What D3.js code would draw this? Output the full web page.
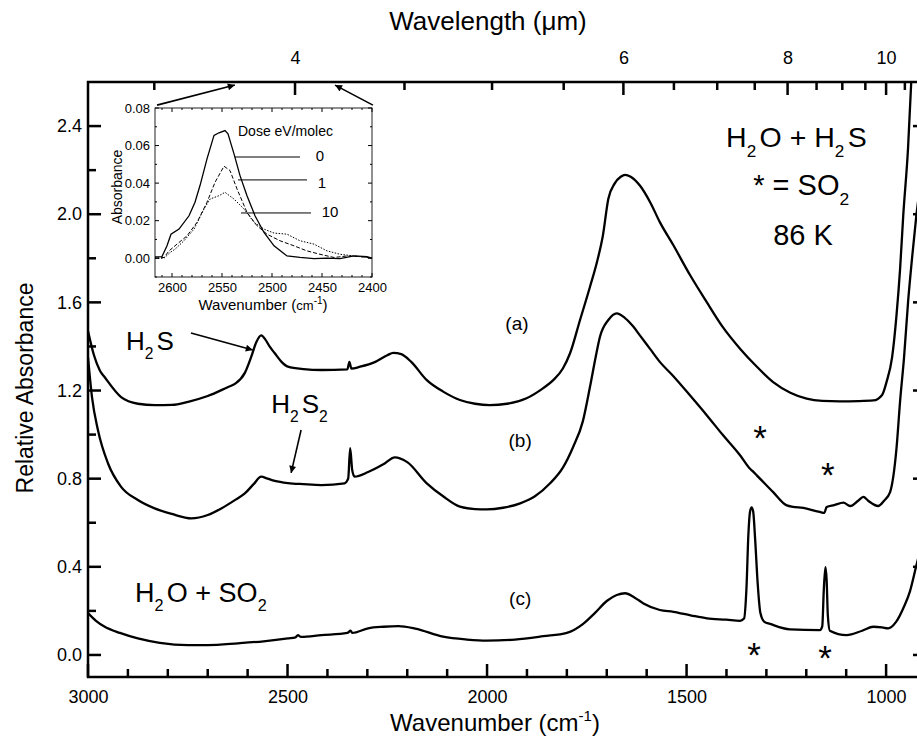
<!DOCTYPE html>
<html>
<head>
<meta charset="utf-8">
<script src="https://cdn.jsdelivr.net/npm/d3@7"></script>
<style>
body { margin: 0; background: #fff; }
text { font-family: "Liberation Sans", Arial, sans-serif; fill: #000; }
</style>
</head>
<body>
<div id="chart-area"></div>
<script>
// spectra: [wavenumber (cm-1), relative absorbance]
var curveA = [[3000,1.47],[2985,1.36],[2970,1.29],[2958,1.26],[2917,1.17],[2875,1.14],[2833,1.134],
	[2790,1.135],[2749,1.149],[2700,1.175],[2650,1.215],[2632,1.23],[2607,1.28],[2591,1.353],[2578,1.42],
	[2566,1.45],[2555,1.43],[2545,1.40],[2532,1.369],[2515,1.33],[2499,1.308],[2460,1.297],[2415,1.293],
	[2350,1.296],[2345,1.33],[2340,1.30],[2318,1.308],[2280,1.33],[2250,1.36],[2235,1.371],[2215,1.365],
	[2190,1.33],[2151,1.247],[2110,1.195],[2068,1.157],[2030,1.14],[1993,1.134],[1950,1.14],[1901,1.165],
	[1860,1.21],[1834,1.247],[1810,1.30],[1792,1.369],[1767,1.52],[1742,1.671],[1725,1.78],[1710,1.90],
	[1696,2.07],[1680,2.14],[1665,2.17],[1654,2.179],[1640,2.17],[1617,2.13],[1590,2.05],[1567,1.964],
	[1533,1.859],[1491,1.723],[1449,1.60],[1410,1.49],[1366,1.39],[1325,1.31],[1283,1.238],[1240,1.19],
	[1199,1.163],[1160,1.153],[1116,1.151],[1070,1.152],[1032,1.155],[1010,1.18],[999,1.238],[985,1.35],
	[974,1.54],[965,1.75],[957,1.995],[945,2.3],[937,2.6],[930,2.9]];

var curveB = [[3000,1.35],[2990,1.17],[2975,1.02],[2950,0.87],[2917,0.763],[2875,0.703],[2833,0.665],
	[2790,0.64],[2741,0.62],[2700,0.635],[2666,0.665],[2630,0.705],[2607,0.733],[2585,0.775],[2566,0.809],
	[2550,0.80],[2532,0.79],[2499,0.78],[2460,0.775],[2415,0.771],[2357,0.779],[2348,0.80],[2343,0.938],
	[2338,0.84],[2332,0.809],[2298,0.83],[2260,0.865],[2231,0.897],[2200,0.875],[2151,0.779],[2110,0.72],
	[2068,0.673],[2030,0.662],[2001,0.661],[1960,0.668],[1917,0.688],[1880,0.72],[1842,0.779],[1810,0.85],
	[1784,0.945],[1760,1.06],[1742,1.217],[1728,1.35],[1717,1.444],[1696,1.52],[1675,1.55],[1655,1.53],
	[1633,1.489],[1617,1.45],[1592,1.39],[1567,1.33],[1533,1.265],[1490,1.175],[1449,1.087],[1410,1.0],
	[1366,0.906],[1341,0.845],[1335,0.835],[1324,0.815],[1283,0.739],[1249,0.679],[1199,0.664],[1166,0.649],
	[1155,0.645],[1149,0.671],[1130,0.68],[1107,0.691],[1090,0.676],[1070,0.70],[1057,0.717],[1045,0.70],
	[1020,0.676],[1005,0.70],[990,0.739],[974,0.936],[965,1.15],[955,1.35],[945,1.60],[935,1.80],
	[925,1.98],[900,2.3]];

var curveC = [[3000,0.19],[2980,0.155],[2958,0.128],[2920,0.10],[2875,0.075],[2820,0.055],[2749,0.045],
	[2700,0.045],[2624,0.053],[2560,0.062],[2499,0.075],[2480,0.08],[2474,0.09],[2466,0.082],[2415,0.09],
	[2350,0.10],[2342,0.11],[2338,0.10],[2298,0.121],[2260,0.128],[2222,0.131],[2180,0.12],[2110,0.083],
	[2050,0.07],[2001,0.065],[1930,0.07],[1859,0.085],[1800,0.10],[1760,0.14],[1730,0.19],[1700,0.245],
	[1675,0.272],[1654,0.28],[1630,0.26],[1608,0.234],[1567,0.204],[1533,0.196],[1490,0.18],[1449,0.166],
	[1400,0.16],[1366,0.155],[1356,0.165],[1350,0.30],[1345,0.55],[1341,0.65],[1337,0.67],[1333,0.65],
	[1328,0.52],[1322,0.33],[1315,0.19],[1305,0.15],[1291,0.141],[1241,0.116],[1166,0.113],[1160,0.13],
	[1156,0.30],[1152,0.398],[1149,0.34],[1146,0.18],[1141,0.11],[1099,0.09],[1060,0.11],[1032,0.128],
	[1010,0.125],[995,0.121],[975,0.15],[955,0.22],[940,0.29],[925,0.40],[900,0.58]];

// inset: S-H stretch region, [wavenumber, absorbance]
var dose0 = [[2617,0.0007],[2610,0.0009],[2605,0.0066],[2601,0.0128],[2593,0.0155],[2583,0.0226],
	[2577,0.0298],[2572,0.0387],[2565,0.0529],[2558,0.0654],[2553,0.0668],[2547,0.068],[2544,0.0663],
	[2538,0.0556],[2532,0.044],[2525,0.0333],[2517,0.0226],[2508,0.0137],[2498,0.0066],[2485,0.0012],
	[2472,0.0004],[2458,-0.0002],[2445,0],[2432,-0.0002],[2418,0.0012],[2405,0.0009],[2400,0]];
var dose1 = [[2617,0],[2608,0.0004],[2603,0.0039],[2595,0.0075],[2585,0.0119],[2575,0.0191],
	[2565,0.0298],[2557,0.0404],[2548,0.049],[2542,0.0467],[2535,0.0369],[2525,0.0244],[2515,0.0173],
	[2505,0.0128],[2492,0.0093],[2478,0.0066],[2465,0.0039],[2452,0.0021],[2438,0.0004],[2425,0.0012],
	[2412,0.0009],[2400,0]];
var dose10 = [[2617,0],[2608,0],[2602,0.003],[2597,0.0048],[2588,0.0093],[2578,0.0155],[2568,0.0262],
	[2562,0.0315],[2553,0.0333],[2547,0.0351],[2538,0.0315],[2528,0.0262],[2518,0.0191],[2508,0.0155],
	[2498,0.0134],[2485,0.0128],[2472,0.0093],[2458,0.0075],[2445,0.0039],[2432,0.0021],[2418,0.0012],
	[2405,0.0004],[2400,0]];

// ticks
var wnMajor = [3000, 2500, 2000, 1500, 1000];
var wnMinor = [2900,2800,2700,2600,2400,2300,2200,2100,1900,1800,1700,1600,1400,1300,1200,1100,900];
var umMajor = [4, 6, 8, 10];
var umMinor = [3.5, 4.5, 5, 5.5, 6.5, 7, 7.5, 8.5, 9, 9.5, 10.5, 11];
var absMajor = [0, 0.4, 0.8, 1.2, 1.6, 2.0, 2.4];
var absMinor = [0.2, 0.6, 1.0, 1.4, 1.8, 2.2];
var insetXTicks = [2600, 2550, 2500, 2450, 2400];
var insetXMinor = [2610,2590,2580,2570,2560,2540,2530,2520,2510,2490,2480,2470,2460,2440,2430,2420,2410];
var insetYTicks = [0, 0.02, 0.04, 0.06, 0.08];
var insetYMinor = [-0.01, 0.01, 0.03, 0.05, 0.07];
var doseLabels = ["0", "1", "10"];

var margin = {left:88, right:0, top:82, bottom:69};
var width = 926 - margin.left,
	height = 677 - margin.top;

var svg = d3.select("#chart-area")
	.append("svg")
		.attr("width", 917)
		.attr("height", 746);

var defs = svg.append("defs");
defs.append("clipPath").attr("id", "plot-clip")
	.append("rect").attr("width", width).attr("height", height);

defs.append("marker")
	.attr("id", "arrow")
	.attr("viewBox", "0 0 10 10")
	.attr("refX", 10).attr("refY", 5)
	.attr("markerWidth", 10).attr("markerHeight", 7)
	.attr("markerUnits", "userSpaceOnUse")
	.attr("orient", "auto")
	.append("path").attr("d", "M0,0 L10,5 L0,10 z").attr("fill", "#000");

var canvas = svg.append("g")
	.attr("transform", "translate(" + margin.left + ", " + margin.top + ")");

//scales
var x = d3.scaleLinear().domain([3000, 900]).range([0, width]);
var y = d3.scaleLinear().domain([-0.1, 2.6]).range([height, 0]);
// the wavelength axis of the original sits a few pixels off the wavenumber one
var xTop = d3.scaleLinear().domain([3000, 900]).range([10, width - 0.5]);

function labelAxis(g, size) {
	g.select(".domain").remove();
	g.selectAll(".tick line").remove();
	g.selectAll(".tick text").attr("font-size", size + "px").attr("font-family", null).attr("fill", "#000");
}

// inward tick marks drawn as thin filled bars
function tickMarks(parent, values, pos, side, len, extent, sw) {
	parent.append("g").selectAll("rect")
		.data(values)
		.enter().append("rect")
			.attr("x", function(v){ return side == "h" ? pos(v) - sw / 2 : Math.min(extent, extent + len); })
			.attr("y", function(v){ return side == "h" ? Math.min(extent, extent + len) : pos(v) - sw / 2; })
			.attr("width", side == "h" ? sw : Math.abs(len))
			.attr("height", side == "h" ? Math.abs(len) : sw)
			.attr("fill", "#000");
}

var topPos = function(l){ return xTop(10000 / l); };

//frame
canvas.append("rect")
	.attr("width", width).attr("height", height)
	.attr("fill", "none").attr("stroke", "#000").attr("stroke-width", 2.5);

tickMarks(canvas, wnMajor, x, "h", -13, height, 2.5);
tickMarks(canvas, wnMinor, x, "h", -8, height, 2.5);
tickMarks(canvas, umMajor, topPos, "h", 13, 0, 2.5);
tickMarks(canvas, umMinor, topPos, "h", 8, 0, 2.5);
tickMarks(canvas, absMajor, y, "v", 13, 0, 2.5);
tickMarks(canvas, absMinor, y, "v", 8, 0, 2.5);
tickMarks(canvas, absMajor, y, "v", -13, width, 2.5);
tickMarks(canvas, absMinor, y, "v", -8, width, 2.5);

//tick labels
canvas.append("g").attr("transform", "translate(0," + height + ")")
	.call(d3.axisBottom(x).tickValues(wnMajor).tickSize(0).tickPadding(13).tickFormat(d3.format("d")))
	.call(labelAxis, 18);
canvas.append("g")
	.call(d3.axisTop(xTop).tickValues(umMajor.map(function(l){ return 10000 / l; }))
		.tickSize(0).tickPadding(18)
		.tickFormat(function(d){ return Math.round(10000 / d); }))
	.call(labelAxis, 18);
canvas.append("g")
	.call(d3.axisLeft(y).tickValues(absMajor).tickSize(0).tickPadding(6).tickFormat(d3.format(".1f")))
	.call(labelAxis, 18);

//axis titles
var xLabel = svg.append("text")
	.attr("x", 495).attr("y", 731)
	.attr("font-size", "24px")
	.attr("text-anchor", "middle");
xLabel.append("tspan").text("Wavenumber (cm");
xLabel.append("tspan").text("-1").attr("font-size", "15px").attr("dy", -10);
xLabel.append("tspan").text(")").attr("dy", 10);

svg.append("text")
	.attr("x", 488).attr("y", 30)
	.attr("font-size", "26px")
	.attr("text-anchor", "middle")
	.text("Wavelength (\u03bcm)");

svg.append("text")
	.attr("transform", "translate(33, 388) rotate(-90)")
	.attr("font-size", "23px")
	.attr("text-anchor", "middle")
	.text("Relative Absorbance");

//spectra
var line = d3.line()
	.x(function(d){ return x(d[0]); })
	.y(function(d){ return y(d[1]); })
	.curve(d3.curveMonotoneX);

var plot = canvas.append("g").attr("clip-path", "url(#plot-clip)");
[curveA, curveB, curveC].forEach(function(c){
	plot.append("path")
		.datum(c)
		.attr("d", line)
		.attr("fill", "none")
		.attr("stroke", "#000")
		.attr("stroke-width", 2.3)
		.attr("stroke-linejoin", "round");
});

//chemical formula text with subscripts
function chem(sel, parts, size) {
	var sub = size * 0.34;
	parts.forEach(function(p, i){
		var t = sel.append("tspan").text(p);
		if (i % 2 == 1) {
			t.attr("font-size", (size * 0.6) + "px").attr("dy", sub);
		} else if (i > 0) {
			t.attr("dy", -sub).attr("dx", size * 0.12);
		}
	});
}

function label(wn, v, parts, size) {
	var t = canvas.append("text")
		.attr("x", x(wn)).attr("y", y(v))
		.attr("font-size", size + "px");
	chem(t, parts, size);
	return t;
}

label(2905, 1.384, ["H", "2", "S"], 26);
label(2541, 1.098, ["H", "2", "S", "2", ""], 26);
label(2882, 0.240, ["H", "2", "O + SO", "2", ""], 27);
label(1401, 2.305, ["H", "2", "O + H", "2", "S"], 28.5);
label(1333, 2.087, ["* = SO", "2", ""], 29);
label(1283, 1.86, ["86 K"], 29);

[["(a)", 1925, 1.506], ["(b)", 1917, 0.975], ["(c)", 1917, 0.258]].forEach(function(d){
	canvas.append("text")
		.attr("x", x(d[1])).attr("y", y(d[2]))
		.attr("dy", "0.35em")
		.attr("font-size", "19px")
		.attr("text-anchor", "middle")
		.text(d[0]);
});

//SO2 asterisks
[[1316, 1.02], [1146, 0.853], [1331, 0.036], [1153, 0.0225]].forEach(function(d){
	canvas.append("text")
		.attr("x", x(d[0])).attr("y", y(d[1]) + 20)
		.attr("font-size", "35px")
		.attr("text-anchor", "middle")
		.text("*");
});

//arrows
var arrows = [[2742, 1.461, 2587, 1.384], [2466, 1.021, 2491, 0.826],
	[2827, 2.495, 2632, 2.586], [2286, 2.495, 2381, 2.586]];
arrows.forEach(function(a){
	canvas.append("line")
		.attr("x1", x(a[0])).attr("y1", y(a[1]))
		.attr("x2", x(a[2])).attr("y2", y(a[3]))
		.attr("stroke", "#000").attr("stroke-width", 1.6)
		.attr("marker-end", "url(#arrow)");
});

//inset
var xi = d3.scaleLinear().domain([2617, 2400]).range([155, 372]);
var yi = d3.scaleLinear().domain([-0.01, 0.08]).range([277, 108]);

var inset = svg.append("g");
inset.append("rect")
	.attr("x", 155).attr("y", 108).attr("width", 217).attr("height", 169)
	.attr("fill", "#fff").attr("stroke", "#222").attr("stroke-width", 1);

tickMarks(inset, insetXTicks, xi, "h", -4, 277, 1);
tickMarks(inset, insetXMinor, xi, "h", -2, 277, 1);
tickMarks(inset, insetXTicks, xi, "h", 4, 108, 1);
tickMarks(inset, insetXMinor, xi, "h", 2, 108, 1);
tickMarks(inset, insetYTicks, yi, "v", 4, 155, 1);
tickMarks(inset, insetYMinor, yi, "v", 2, 155, 1);
tickMarks(inset, insetYTicks, yi, "v", -4, 372, 1);
tickMarks(inset, insetYMinor, yi, "v", -2, 372, 1);

inset.append("g").attr("transform", "translate(0,277)")
	.call(d3.axisBottom(xi).tickValues(insetXTicks).tickSize(0).tickPadding(6).tickFormat(d3.format("d")))
	.call(labelAxis, 13);
inset.append("g").attr("transform", "translate(155,0)")
	.call(d3.axisLeft(yi).tickValues(insetYTicks).tickSize(0).tickPadding(5).tickFormat(d3.format(".2f")))
	.call(labelAxis, 13);

var insetLine = d3.line()
	.x(function(d){ return xi(d[0]); })
	.y(function(d){ return yi(d[1]); });

[[dose0, null, 1.3], [dose1, "4,2", 1], [dose10, "1.5,1.5", 1]].forEach(function(s){
	inset.append("path")
		.datum(s[0])
		.attr("d", insetLine)
		.attr("fill", "none")
		.attr("stroke", "#000")
		.attr("stroke-width", s[2])
		.attr("stroke-dasharray", s[1]);
});

//dose labels with leader lines
var leaders = [[2537, 2472, 0.0539, 2452, 0.0545], [2534, 2465, 0.0417, 2450, 0.040], [2531, 2461, 0.0241, 2442, 0.0246]];
leaders.forEach(function(l, i){
	inset.append("line")
		.attr("x1", xi(l[0])).attr("x2", xi(l[1]))
		.attr("y1", yi(l[2])).attr("y2", yi(l[2]))
		.attr("stroke", "#000").attr("stroke-width", 1);
	inset.append("text")
		.attr("x", xi(l[3])).attr("y", yi(l[4]))
		.attr("dy", "0.35em")
		.attr("font-size", "15px")
		.attr("text-anchor", "middle")
		.text(doseLabels[i]);
});

inset.append("text")
	.attr("x", xi(2534)).attr("y", yi(0.065))
	.attr("font-size", "14px")
	.text("Dose eV/molec");

var ixLabel = inset.append("text")
	.attr("x", 263).attr("y", 310)
	.attr("font-size", "15px")
	.attr("text-anchor", "middle");
ixLabel.append("tspan").text("Wavenumber (");
ixLabel.append("tspan").text("cm").attr("font-size", "13px");
ixLabel.append("tspan").text("-1").attr("font-size", "10px").attr("dy", -6);
ixLabel.append("tspan").text(")").attr("dy", 6);

inset.append("text")
	.attr("transform", "translate(122, 187) rotate(-90)")
	.attr("font-size", "14px")
	.attr("text-anchor", "middle")
	.text("Absorbance");
</script>
</body>
</html>
